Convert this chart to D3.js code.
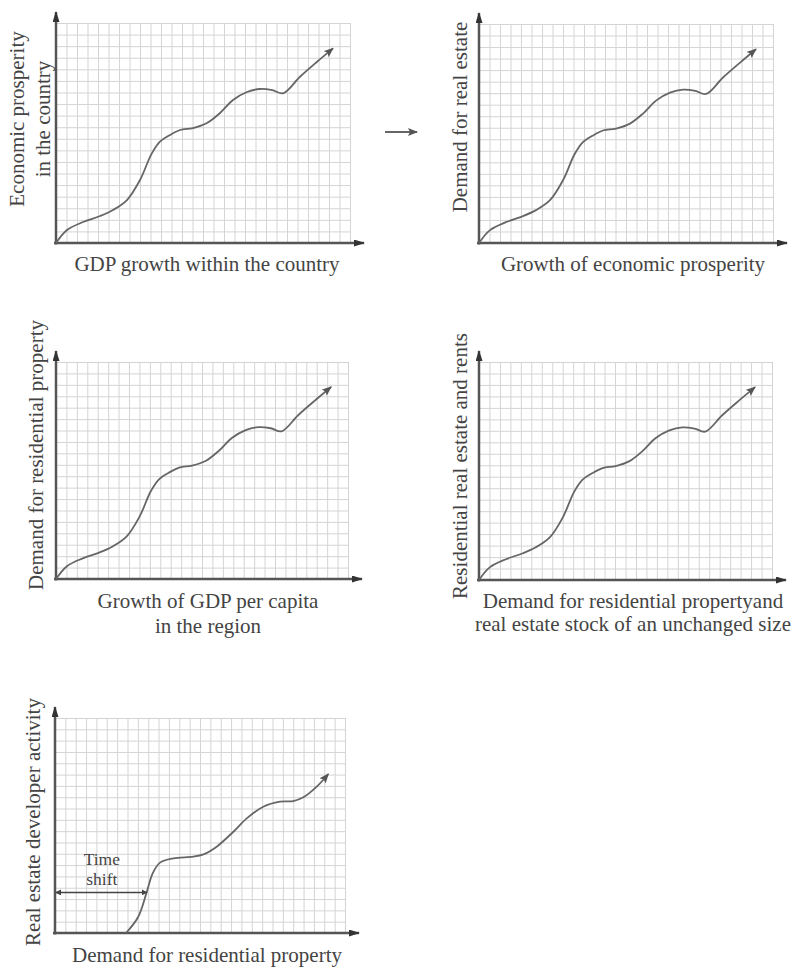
<!DOCTYPE html>
<html>
<head>
<meta charset="utf-8">
<script src="https://cdn.jsdelivr.net/npm/d3@7"></script>
<style>
  body { margin: 0; background: #fff; }
  svg { display: block; }
  text { font-family: "Liberation Serif", "Times New Roman", serif; fill: #444; }
</style>
</head>
<body>
<svg width="796" height="970"></svg>
<script>
// grid is 28 columns by 19 rows, curve values are in grid units
const cols = 28, rows = 19;

// curve used by the first four panels
const curveX = [0, 1.05, 2.57, 4.19, 5.43, 6.76, 8.0, 9.1, 9.9, 10.8, 11.81, 13.05, 14.38, 15.62, 16.86, 18.19, 19.43, 20.6, 21.62, 23.24, 24.86, 26.38];
const curveY = [0, 1.12, 1.81, 2.33, 2.85, 3.71, 5.44, 7.7, 8.75, 9.3, 9.76, 9.93, 10.36, 11.23, 12.35, 13.04, 13.3, 13.2, 12.93, 14.36, 15.65, 16.81];

// delayed curve of the last panel
const lagX = [6.86, 8.04, 8.85, 9.43, 10.14, 11.42, 13.36, 14.33, 15.61, 17.22, 18.51, 20.11, 21.72, 23.01, 23.98, 25.27, 26.39];
const lagY = [0, 1.44, 3.59, 5.27, 6.22, 6.6, 6.75, 6.95, 7.63, 8.95, 10.13, 11.16, 11.6, 11.66, 11.99, 12.93, 14.05];

// axis titles
const yTitles = [
  ["Economic prosperity", "in the country"],
  ["Demand for real estate"],
  ["Demand for residential property"],
  ["Residential real estate and rents"],
  ["Real estate developer activity"]
];
const xTitles = [
  ["GDP growth within the country"],
  ["Growth of economic prosperity"],
  ["Growth of GDP per capita", "in the region"],
  ["Demand for residential propertyand", "real estate stock of an unchanged size"],
  ["Demand for residential property"]
];
const shiftLabel = ["Time", "shift"];

// where every panel sits on the page
const layout = [
  { x: 56, y: 23, w: 294, h: 220, yl: [24, 50], ylc: 119, xlc: 207, xl: [271] },
  { x: 479, y: 24, w: 294, h: 219, yl: [467], ylc: 117, xlc: 633, xl: [271] },
  { x: 56, y: 362, w: 292, h: 217, yl: [43], ylc: 455, xlc: 208, xl: [608, 633] },
  { x: 479, y: 362, w: 293, h: 218, yl: [467], ylc: 466, xlc: 633, xl: [608, 631] },
  { x: 55, y: 718, w: 290, h: 215, yl: [40], ylc: 822, xlc: 207, xl: [962] }
];

const svg = d3.select("svg");

// arrow heads
const defs = svg.append("defs");
defs.append("marker")
    .attr("id", "tip")
    .attr("markerUnits", "userSpaceOnUse")
    .attr("viewBox", "0 0 10 8")
    .attr("markerWidth", 10).attr("markerHeight", 8)
    .attr("refX", 9).attr("refY", 4)
    .attr("orient", "auto")
    .append("path").attr("d", "M0,0L10,4L0,8L2,4Z").attr("fill", "#555");
defs.append("marker")
    .attr("id", "axisTip")
    .attr("markerUnits", "userSpaceOnUse")
    .attr("viewBox", "0 0 11 7")
    .attr("markerWidth", 11).attr("markerHeight", 7)
    .attr("refX", 10).attr("refY", 3.5)
    .attr("orient", "auto")
    .append("path").attr("d", "M0,0L11,3.5L0,7Z").attr("fill", "#333");
defs.append("marker")
    .attr("id", "smallTip")
    .attr("markerUnits", "userSpaceOnUse")
    .attr("viewBox", "0 0 6 6")
    .attr("markerWidth", 6).attr("markerHeight", 6)
    .attr("refX", 5).attr("refY", 3)
    .attr("orient", "auto-start-reverse")
    .append("path").attr("d", "M0,0L6,3L0,6Z").attr("fill", "#444");

layout.forEach(function(p, i) {
    const g = svg.append("g");
    const xs = d3.scaleLinear().domain([0, cols]).range([p.x, p.x + p.w]);
    const ys = d3.scaleLinear().domain([0, rows]).range([p.y + p.h, p.y]);

    // grid drawn with axis ticks
    g.append("g")
        .attr("transform", "translate(0," + (p.y + p.h) + ")")
        .call(d3.axisBottom(xs).tickValues(d3.range(0, cols + 1)).tickSize(-p.h).tickFormat(""))
        .call(function(a) { a.select(".domain").remove(); })
        .selectAll("line").attr("stroke", "#d4d4d4").attr("stroke-width", 1);
    g.append("g")
        .attr("transform", "translate(" + p.x + ",0)")
        .call(d3.axisLeft(ys).tickValues(d3.range(0, rows + 1)).tickSize(-p.w).tickFormat(""))
        .call(function(a) { a.select(".domain").remove(); })
        .selectAll("line").attr("stroke", "#d4d4d4").attr("stroke-width", 1);

    // the two axes with arrows
    g.append("line")
        .attr("x1", xs(0)).attr("y1", ys(0) + 1.5)
        .attr("x2", xs(0)).attr("y2", p.y - 11)
        .attr("stroke", "#555").attr("stroke-width", 2.5)
        .attr("marker-end", "url(#axisTip)");
    g.append("line")
        .attr("x1", xs(0) - 2).attr("y1", ys(0))
        .attr("x2", xs(cols) + 14).attr("y2", ys(0))
        .attr("stroke", "#555").attr("stroke-width", 2.5)
        .attr("marker-end", "url(#axisTip)");

    // the curve
    const cx = i < 4 ? curveX : lagX;
    const cy = i < 4 ? curveY : lagY;
    const line = d3.line()
        .x(function(d) { return xs(d[0]); })
        .y(function(d) { return ys(d[1]); })
        .curve(d3.curveCatmullRom.alpha(0.5));
    g.append("path")
        .datum(d3.zip(cx, cy))
        .attr("d", line)
        .attr("fill", "none")
        .attr("stroke", "#666")
        .attr("stroke-width", 1.8)
        .attr("marker-end", "url(#tip)");

    // y title (rotated)
    yTitles[i].forEach(function(t, k) {
        g.append("text")
            .attr("transform", "translate(" + p.yl[k] + "," + p.ylc + ") rotate(-90)")
            .attr("text-anchor", "middle")
            .style("font-size", "21px")
            .text(t);
    });

    // x title
    xTitles[i].forEach(function(t, k) {
        g.append("text")
            .attr("x", p.xlc).attr("y", p.xl[k])
            .attr("text-anchor", "middle")
            .style("font-size", "21px")
            .text(t);
    });

    // time shift bar in the last panel
    if (i === 4) {
        g.append("line")
            .attr("x1", xs(0) + 1).attr("y1", ys(lagY[2]))
            .attr("x2", xs(lagX[2])).attr("y2", ys(lagY[2]))
            .attr("stroke", "#444").attr("stroke-width", 1.5)
            .attr("marker-start", "url(#smallTip)")
            .attr("marker-end", "url(#smallTip)");
        shiftLabel.forEach(function(t, k) {
            g.append("text")
                .attr("x", xs(lagX[2] / 2) + 1)
                .attr("y", ys(lagY[2]) - 27 + k * 20)
                .attr("text-anchor", "middle")
                .style("font-size", "17.5px")
                .text(t);
        });
    }
});

// small arrow between the two top panels
svg.append("line")
    .attr("x1", 385).attr("y1", 132)
    .attr("x2", 417).attr("y2", 132)
    .attr("stroke", "#333").attr("stroke-width", 1.5)
    .attr("marker-end", "url(#tip)");
</script>
</body>
</html>
